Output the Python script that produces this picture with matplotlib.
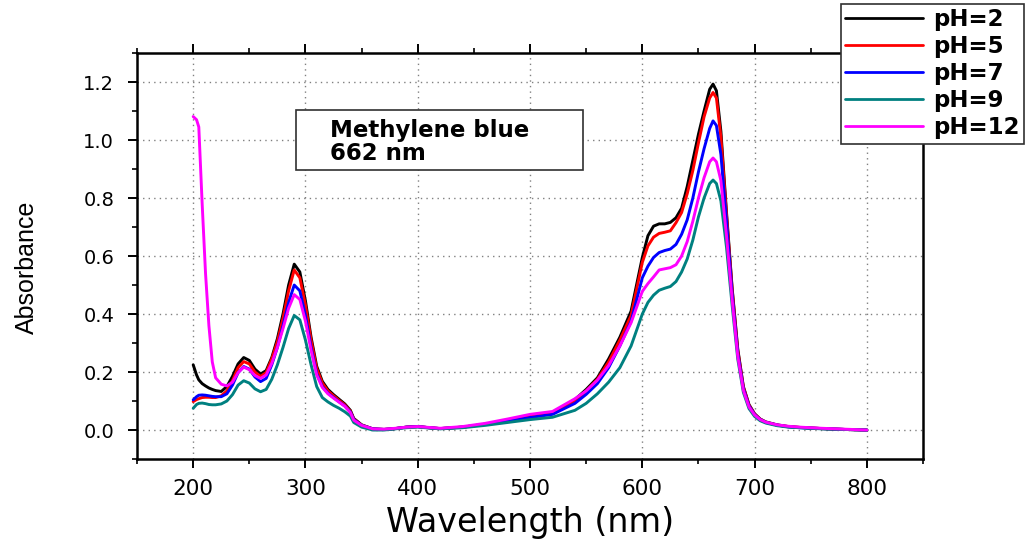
import matplotlib
matplotlib.use("Agg")
import matplotlib.pyplot as plt
from matplotlib.ticker import MultipleLocator
from matplotlib.patches import Rectangle

# ---------------- data ----------------
wavelength = [200, 203, 205, 208, 211, 214, 217, 220,
              225, 230, 235, 240, 245, 250, 255, 260, 265, 270,
              275, 280, 285, 290, 295, 300, 305, 310, 315, 320,
              325, 330, 335, 340, 343, 350, 360, 370, 380, 390,
              400, 410, 420, 440, 460, 480, 500, 520, 540, 550,
              560, 570, 580, 590, 600, 605, 610, 615, 620, 625,
              630, 635, 640, 645, 650, 655, 660, 663, 666, 670,
              675, 680, 685, 690, 695, 700, 705, 710, 720, 730,
              740, 760, 780, 800]

ph2 = [0.225, 0.190, 0.173, 0.160, 0.152, 0.145, 0.140, 0.136,
       0.133, 0.150, 0.185, 0.228, 0.250, 0.240, 0.210, 0.193, 0.205, 0.250,
       0.315, 0.400, 0.500, 0.572, 0.545, 0.445, 0.320, 0.220, 0.168, 0.140,
       0.122, 0.106, 0.090, 0.068, 0.040, 0.018, 0.004, 0.002, 0.005, 0.010,
       0.012, 0.008, 0.005, 0.010, 0.020, 0.032, 0.047, 0.060, 0.105, 0.140,
       0.180, 0.245, 0.320, 0.410, 0.595, 0.670, 0.703, 0.711, 0.711, 0.716,
       0.732, 0.765, 0.840, 0.930, 1.020, 1.100, 1.175, 1.193, 1.170, 1.030,
       0.750, 0.490, 0.280, 0.150, 0.088, 0.056, 0.038, 0.028, 0.018, 0.012,
       0.009, 0.005, 0.002, 0.000]

ph5 = [0.098, 0.105, 0.108, 0.112, 0.113, 0.113, 0.112, 0.112,
       0.118, 0.135, 0.170, 0.215, 0.236, 0.228, 0.200, 0.185, 0.198, 0.245,
       0.305, 0.385, 0.480, 0.552, 0.525, 0.430, 0.310, 0.212, 0.162, 0.135,
       0.118, 0.102, 0.087, 0.065, 0.038, 0.017, 0.004, 0.002, 0.005, 0.010,
       0.012, 0.008, 0.005, 0.010, 0.020, 0.032, 0.046, 0.058, 0.100, 0.135,
       0.175, 0.235, 0.310, 0.395, 0.578, 0.635, 0.665, 0.678, 0.682, 0.687,
       0.715, 0.750, 0.815, 0.895, 0.990, 1.080, 1.145, 1.164, 1.145, 1.010,
       0.740, 0.485, 0.275, 0.148, 0.086, 0.055, 0.037, 0.027, 0.017, 0.012,
       0.009, 0.005, 0.002, 0.000]

ph7 = [0.104, 0.115, 0.120, 0.121, 0.120, 0.118, 0.116, 0.115,
       0.115, 0.125, 0.155, 0.198, 0.219, 0.210, 0.183, 0.167, 0.178, 0.225,
       0.285, 0.360, 0.440, 0.500, 0.480, 0.395, 0.285, 0.195, 0.150, 0.127,
       0.112, 0.097, 0.083, 0.062, 0.036, 0.016, 0.004, 0.002, 0.005, 0.010,
       0.012, 0.008, 0.005, 0.010, 0.019, 0.030, 0.043, 0.054, 0.092, 0.123,
       0.160, 0.215, 0.290, 0.375, 0.525, 0.565, 0.595, 0.612, 0.619, 0.624,
       0.640, 0.675, 0.725, 0.800, 0.890, 0.970, 1.040, 1.066, 1.050, 0.950,
       0.720, 0.470, 0.265, 0.142, 0.083, 0.053, 0.036, 0.026, 0.017, 0.011,
       0.008, 0.005, 0.002, 0.000]

ph9 = [0.075, 0.088, 0.092, 0.093, 0.091, 0.088, 0.087, 0.087,
       0.090, 0.100, 0.122, 0.155, 0.170, 0.162, 0.142, 0.132, 0.140, 0.175,
       0.225, 0.285, 0.350, 0.395, 0.380, 0.310, 0.225, 0.150, 0.112, 0.097,
       0.085, 0.075, 0.063, 0.048, 0.026, 0.010, 0.000, 0.000, 0.004, 0.008,
       0.010, 0.007, 0.004, 0.008, 0.016, 0.026, 0.036, 0.044, 0.068, 0.092,
       0.125, 0.165, 0.215, 0.290, 0.400, 0.440, 0.465, 0.482, 0.489, 0.495,
       0.512, 0.545, 0.590, 0.655, 0.735, 0.800, 0.850, 0.862, 0.850, 0.790,
       0.630, 0.430, 0.245, 0.130, 0.074, 0.047, 0.032, 0.024, 0.015, 0.010,
       0.008, 0.004, 0.002, 0.000]

ph12 = [1.081, 1.070, 1.045, 0.780, 0.540, 0.360, 0.235, 0.180,
        0.158, 0.152, 0.165, 0.198, 0.217, 0.208, 0.188, 0.178, 0.190, 0.230,
        0.285, 0.350, 0.420, 0.467, 0.450, 0.375, 0.275, 0.190, 0.147, 0.125,
        0.110, 0.096, 0.082, 0.060, 0.034, 0.016, 0.004, 0.003, 0.006, 0.010,
        0.012, 0.009, 0.006, 0.012, 0.023, 0.038, 0.054, 0.064, 0.108, 0.135,
        0.172, 0.222, 0.290, 0.370, 0.478, 0.505, 0.528, 0.552, 0.556, 0.560,
        0.570, 0.600, 0.650, 0.720, 0.800, 0.870, 0.925, 0.938, 0.925, 0.860,
        0.670, 0.450, 0.255, 0.137, 0.080, 0.052, 0.036, 0.027, 0.018, 0.013,
        0.010, 0.006, 0.003, 0.000]

labels = ["pH=2", "pH=5", "pH=7", "pH=9", "pH=12"]
colors = ["#000000", "#ff0000", "#0000ff", "#008080", "#ff00ff"]
series = [ph2, ph5, ph7, ph9, ph12]

x_ticks = [200, 300, 400, 500, 600, 700, 800]
y_ticks = [0.0, 0.2, 0.4, 0.6, 0.8, 1.0, 1.2]

plt.rcParams["font.family"] = ["DejaVu Sans"]

# ---------------- figure ----------------
fig = plt.figure(figsize=(10.25, 5.44), dpi=100)
ax = fig.add_axes([0.1337, 0.1562, 0.7668, 0.7463])

for vals, lab, col in zip(series, labels, colors):
    ax.plot(wavelength, vals, color=col, lw=2.1, label=lab,
            solid_capstyle="round", solid_joinstyle="round")

ax.set_xlim(150, 850)
ax.set_ylim(-0.1, 1.3)
ax.set_xticks(x_ticks)
ax.set_yticks(y_ticks)
ax.set_yticklabels([f"{v:.1f}" for v in y_ticks])
ax.xaxis.set_minor_locator(MultipleLocator(50))
ax.yaxis.set_minor_locator(MultipleLocator(0.1))

ax.grid(True, which="major", color="#808080", linestyle=(0, (1, 3)), lw=1.0)

for s in ax.spines.values():
    s.set_linewidth(1.8)

ax.tick_params(axis="both", which="major", direction="out", length=6.5, width=1.4,
               top=True, right=False)
ax.tick_params(axis="both", which="minor", direction="out", length=3.5, width=1.2,
               top=True, right=False)
ax.tick_params(axis="x", which="major", labelsize=15.5, pad=8)
ax.tick_params(axis="y", which="major", labelsize=14, pad=10)

ax.set_xlabel("Wavelength (nm)", fontsize=24)
ax.xaxis.set_label_coords(0.5, -0.115)
ax.xaxis.label.set_va("top")
ax.set_ylabel("Absorbance", fontsize=18, family=["Liberation Sans", "DejaVu Sans"])
ax.yaxis.set_label_coords(-0.125, 0.473)

# annotation box
ax.add_patch(Rectangle((0.2023, 0.7118), 0.3651, 0.1478, transform=ax.transAxes,
                       facecolor="white", edgecolor="#303030", lw=1.2, zorder=5))
ax.text(0.2455, 0.838, "Methylene blue\n662 nm", transform=ax.transAxes,
        fontsize=16.5, fontweight="bold", va="top", ha="left", linespacing=1.0, zorder=6)

leg = fig.legend(loc="upper right", bbox_to_anchor=(0.9995, 0.993),
                 prop={"weight": "bold", "size": 16.5}, handlelength=3.4,
                 labelspacing=0.17, handletextpad=0.45, borderpad=0.2,
                 borderaxespad=0.0, fancybox=False, framealpha=1, edgecolor="#303030")
leg.get_frame().set_linewidth(1.2)
for line in leg.get_lines():
    line.set_linewidth(2.0)

fig.savefig("out.png", dpi=100)
